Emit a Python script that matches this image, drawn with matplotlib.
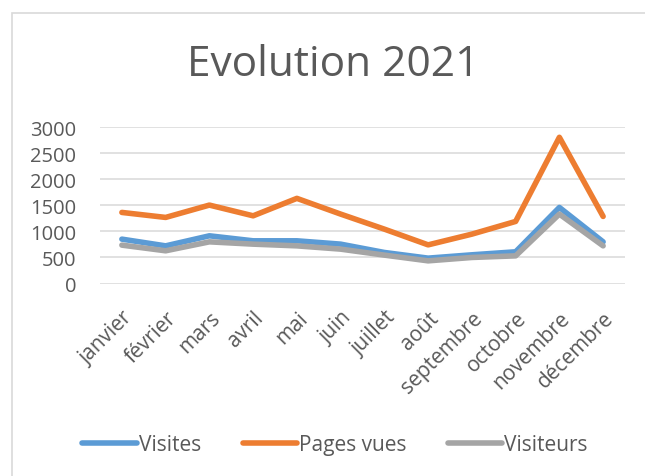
import matplotlib
matplotlib.use("Agg")
import matplotlib.pyplot as plt
from matplotlib.patches import Rectangle
from matplotlib.lines import Line2D

months = ["janvier", "février", "mars", "avril", "mai", "juin", "juillet",
          "août", "septembre", "octobre", "novembre", "décembre"]
visites = [852, 723, 916, 820, 820, 756, 596, 487, 551, 609, 1461, 800]
pages_vues = [1365, 1269, 1506, 1300, 1635, 1333, 1044, 742, 948, 1192, 2808, 1288]
visiteurs = [737, 628, 800, 756, 723, 660, 545, 435, 500, 531, 1333, 723]
yticks = [0, 500, 1000, 1500, 2000, 2500, 3000]

series_names = ["Visites", "Pages vues", "Visiteurs"]
colors = ["#5B9BD5", "#ED7D31", "#A5A5A5"]
text_color = "#595959"
font = ["Open Sans", "DejaVu Sans"]
plt.rcParams["font.family"] = font

W, H = 645, 477
fig = plt.figure(figsize=(W / 100, H / 100), dpi=100)
fig.patch.set_facecolor("white")

# chart border
fig.patches.append(Rectangle((11.5 / W, -0.1), 1.2, 1 - 13.5 / H + 0.1,
                             transform=fig.transFigure, fill=False,
                             edgecolor="#D9D9D9", linewidth=1.2))

ax_left, ax_right, ax_top, ax_bottom = 100, 625, 128.3, 284.5
ax = fig.add_axes([ax_left / W, 1 - ax_bottom / H, (ax_right - ax_left) / W,
                   (ax_bottom - ax_top) / H])

x = list(range(len(months)))
for i, (name, vals) in enumerate(zip(series_names, [visites, pages_vues, visiteurs])):
    ax.plot(x, vals, color=colors[i], linewidth=4.0, solid_capstyle="round",
            solid_joinstyle="round", zorder=3 + i, label=name)

ax.set_xlim(-0.5, len(months) - 0.5)
ax.set_ylim(0, 3000)
ax.set_yticks(yticks)
ax.set_yticklabels([str(v) for v in yticks])
ax.set_xticks(x)
ax.set_xticklabels(months, rotation=45, ha="right", rotation_mode="anchor")
ax.tick_params(axis="both", length=0, colors=text_color)
ax.tick_params(axis="y", pad=17, labelsize=14.5)
ax.tick_params(axis="x", pad=17, labelsize=15)
ax.grid(axis="y", color="#D9D9D9", linewidth=1.1)
ax.set_axisbelow(True)
for s in ax.spines.values():
    s.set_visible(False)

fig.text(333 / W, 1 - 65 / H, "Evolution 2021", ha="center", va="center",
         fontsize=30.5, color=text_color)

handles = [Line2D([0], [0], color=c, linewidth=4.0, solid_capstyle="round")
           for c in colors]
fig.legend(handles, series_names, loc="center", bbox_to_anchor=(335 / W, 1 - 446 / H),
           ncol=3, frameon=False, fontsize=15, labelcolor=text_color,
           handlelength=2.6, handletextpad=0.1, columnspacing=2.0)

fig.savefig("out.png", dpi=100)
